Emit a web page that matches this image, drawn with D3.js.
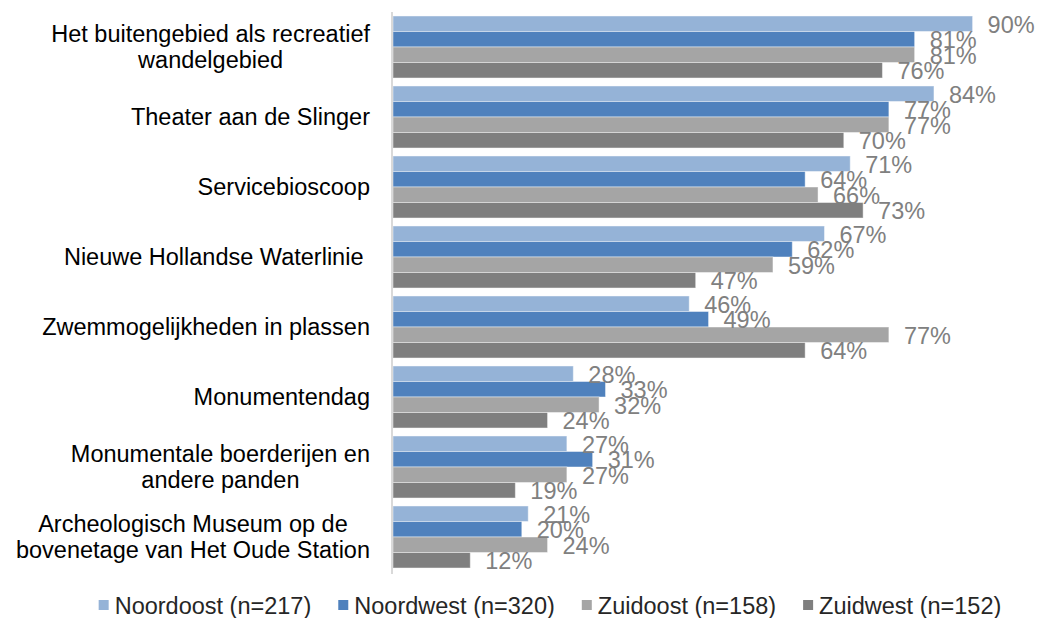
<!DOCTYPE html>
<html>
<head>
<meta charset="utf-8">
<script src="https://cdn.jsdelivr.net/npm/d3@7"></script>
<style>
  body { margin: 0; background: #fff; }
  svg { font-family: "Liberation Sans", Arial, sans-serif; }
</style>
</head>
<body>
<div id="chart"></div>
<script>
// categories, top to bottom
var categories = [
  ["Het buitengebied als recreatief", "wandelgebied"],
  ["Theater aan de Slinger"],
  ["Servicebioscoop"],
  ["Nieuwe Hollandse Waterlinie "],
  ["Zwemmogelijkheden in plassen"],
  ["Monumentendag"],
  ["Monumentale boerderijen en", "andere panden"],
  ["Archeologisch Museum op de", "bovenetage van Het Oude Station"]
];

var seriesNames = ["Noordoost (n=217)", "Noordwest (n=320)", "Zuidoost (n=158)", "Zuidwest (n=152)"];

// percentages per series
var noordoost = [90, 84, 71, 67, 46, 28, 27, 21];
var noordwest = [81, 77, 64, 62, 49, 33, 31, 20];
var zuidoost  = [81, 77, 66, 59, 77, 32, 27, 24];
var zuidwest  = [76, 70, 73, 47, 64, 24, 19, 12];

var seriesValues = [noordoost, noordwest, zuidoost, zuidwest];
var colors = ["#95b3d7", "#4f81bd", "#a5a5a5", "#7f7f7f"];

var width = 1039, height = 618;

var svg = d3.select("#chart").append("svg")
  .attr("width", width)
  .attr("height", height);

var x = d3.scaleLinear().domain([0, 100]).range([393, 1037]);

var y = d3.scaleBand()
  .domain(d3.range(categories.length))
  .range([12, 572])
  .paddingInner(0.114)
  .paddingOuter(0.057);

var ySub = d3.scaleBand()
  .domain(d3.range(seriesNames.length))
  .range([0, y.bandwidth()]);

// rows of data for bars
var rows = [];
categories.forEach(function(c, i) {
  seriesValues.forEach(function(vals, s) {
    rows.push({ cat: i, s: s, v: vals[i] });
  });
});

svg.append("g").selectAll("rect")
  .data(rows)
  .enter().append("rect")
  .attr("x", x(0))
  .attr("y", function(d) { return y(d.cat) + ySub(d.s); })
  .attr("width", function(d) { return x(d.v) - x(0); })
  .attr("height", ySub.bandwidth())
  .attr("fill", function(d) { return colors[d.s]; })
  .attr("stroke", "#ffffff")
  .attr("stroke-opacity", 0.45)
  .attr("stroke-width", 1);

// vertical axis line
svg.append("line")
  .attr("x1", x(0) - 1).attr("x2", x(0) - 1)
  .attr("y1", 12).attr("y2", 574)
  .attr("stroke", "#d9d9d9")
  .attr("stroke-width", 2);

// value labels
svg.append("g").selectAll("text")
  .data(rows)
  .enter().append("text")
  .attr("x", function(d) { return x(d.v) + 15; })
  .attr("y", function(d) { return y(d.cat) + ySub(d.s) + ySub.bandwidth() / 2 + 1; })
  .attr("dominant-baseline", "central")
  .attr("font-size", "23.5px")
  .attr("fill", "#808080")
  .text(function(d) { return d.v + "%"; });

// category labels (multi-line blocks, right aligned, lines centered)
var lineH = 26;
categories.forEach(function(lines, i) {
  var g = svg.append("g");
  var cy = y(i) + y.bandwidth() / 2;
  var texts = lines.map(function(l, k) {
    return g.append("text")
      .attr("xml:space", "preserve")
      .style("white-space", "pre")
      .attr("font-size", "23.5px")
      .attr("fill", "#000")
      .attr("dominant-baseline", "central")
      .attr("text-anchor", "middle")
      .attr("y", cy + (k - (lines.length - 1) / 2) * lineH)
      .text(l);
  });
  var maxW = d3.max(texts, function(t) { return t.node().getComputedTextLength(); });
  texts.forEach(function(t) { t.attr("x", 370 - maxW / 2); });
});

// legend
var legend = svg.append("g");
var items = seriesNames.map(function(name, s) {
  var g = legend.append("g");
  g.append("rect")
    .attr("y", 600).attr("width", 10).attr("height", 10)
    .attr("fill", colors[s]);
  var t = g.append("text")
    .attr("x", 16).attr("y", 606)
    .attr("dominant-baseline", "central")
    .attr("font-size", "23.5px")
    .attr("fill", "#262626")
    .text(name);
  return { g: g, w: 16 + t.node().getComputedTextLength() };
});
var gap = 27;
var total = d3.sum(items, function(d) { return d.w; }) + gap * (items.length - 1);
var lx = 550 - total / 2;
items.forEach(function(it) {
  it.g.attr("transform", "translate(" + lx + ",0)");
  lx += it.w + gap;
});
</script>
</body>
</html>
